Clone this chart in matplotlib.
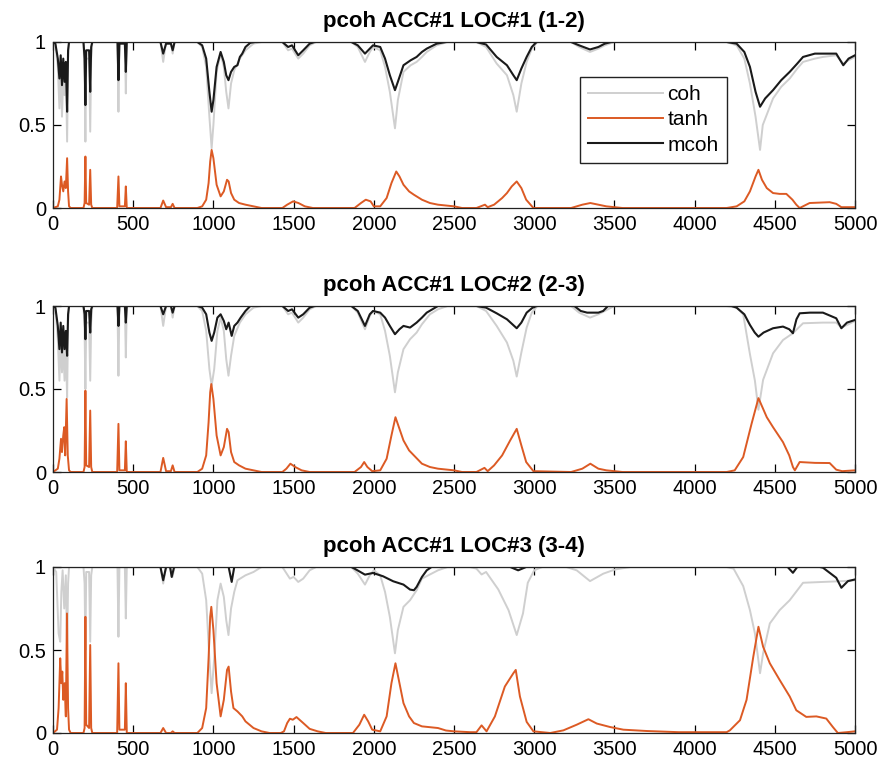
import matplotlib
matplotlib.use("Agg")
import matplotlib.pyplot as plt
import numpy as np

plt.rcParams['font.family'] = ['Liberation Sans', 'DejaVu Sans']

titles = ["pcoh ACC#1 LOC#1 (1-2)", "pcoh ACC#1 LOC#2 (2-3)", "pcoh ACC#1 LOC#3 (3-4)"]
series_names = ["coh", "tanh", "mcoh"]
x_ticks = [0, 500, 1000, 1500, 2000, 2500, 3000, 3500, 4000, 4500, 5000]
y_ticks = [0, 0.5, 1]
y_ticklabels = ["0", "0.5", "1"]

# ---------------- Panel 1 (frequency, value) ----------------
p1_coh = [(0, 1.0), (15, 0.98), (30, 0.85), (40, 0.6), (48, 0.85), (56, 0.55), (64, 0.8), (72, 0.68),
          (80, 0.85), (88, 0.4), (94, 0.9), (100, 1.0),
          (190, 1.0), (197, 0.8), (202, 0.4), (207, 0.9), (225, 0.9), (232, 0.46), (238, 0.9), (245, 1.0),
          (402, 1.0), (408, 0.58), (414, 1.0), (448, 1.0), (454, 0.69), (460, 1.0),
          (670, 1.0), (687, 0.88), (705, 1.0), (735, 1.0), (746, 0.93), (758, 1.0),
          (900, 1.0), (930, 0.97), (955, 0.85), (975, 0.55), (989, 0.36), (1000, 0.5), (1020, 0.82),
          (1045, 0.93), (1065, 0.85), (1080, 0.7), (1094, 0.6), (1110, 0.75), (1130, 0.83), (1165, 0.9),
          (1200, 0.95), (1250, 0.99), (1300, 1.0),
          (1430, 1.0), (1466, 0.95), (1490, 0.96), (1529, 0.9), (1560, 0.93), (1600, 0.98), (1640, 1.0),
          (1860, 1.0), (1900, 0.97), (1945, 0.88), (1975, 0.94), (1995, 0.97), (2040, 0.95), (2070, 0.85),
          (2100, 0.7), (2132, 0.48), (2150, 0.65), (2185, 0.82), (2230, 0.86), (2267, 0.88), (2300, 0.91),
          (2330, 0.94), (2392, 0.98), (2460, 1.0),
          (2640, 1.0), (2700, 0.97), (2766, 0.87), (2830, 0.8), (2870, 0.68), (2891, 0.58), (2920, 0.75),
          (2953, 0.88), (2985, 0.96), (3020, 1.0),
          (3230, 1.0), (3280, 0.97), (3348, 0.94), (3400, 0.96), (3440, 0.98), (3500, 1.0),
          (4200, 1.0), (4262, 0.98), (4310, 0.9), (4345, 0.75), (4380, 0.55), (4408, 0.35), (4425, 0.5),
          (4489, 0.66), (4540, 0.73), (4593, 0.78), (4640, 0.84), (4676, 0.88), (4750, 0.9), (4800, 0.91),
          (4883, 0.92), (4927, 0.87), (4960, 0.89), (5000, 0.91)]
p1_tanh = [(0, 0.0), (30, 0.01), (40, 0.05), (50, 0.19), (56, 0.14), (64, 0.1), (72, 0.16), (80, 0.12),
           (88, 0.3), (94, 0.1), (100, 0.01), (110, 0.0),
           (190, 0.0), (197, 0.03), (202, 0.31), (207, 0.03), (225, 0.02), (232, 0.23), (238, 0.02), (245, 0.0),
           (400, 0.0), (408, 0.19), (414, 0.01), (448, 0.01), (454, 0.13), (460, 0.0),
           (670, 0.0), (687, 0.045), (705, 0.005), (735, 0.005), (746, 0.025), (758, 0.0),
           (900, 0.0), (930, 0.01), (955, 0.05), (970, 0.15), (980, 0.28), (989, 0.35), (1000, 0.3),
           (1020, 0.14), (1045, 0.07), (1065, 0.1), (1085, 0.17), (1095, 0.16), (1110, 0.09), (1130, 0.05),
           (1160, 0.03), (1200, 0.02), (1250, 0.01), (1300, 0.0),
           (1430, 0.0), (1460, 0.02), (1497, 0.04), (1530, 0.03), (1570, 0.01), (1620, 0.0),
           (1880, 0.0), (1920, 0.03), (1950, 0.05), (1980, 0.04), (2000, 0.01), (2040, 0.01), (2080, 0.06),
           (2110, 0.15), (2140, 0.22), (2160, 0.19), (2185, 0.14), (2220, 0.1), (2250, 0.08), (2300, 0.05),
           (2350, 0.03), (2400, 0.02), (2500, 0.01), (2550, 0.0),
           (2640, 0.0), (2693, 0.02), (2710, 0.005), (2750, 0.02), (2800, 0.06), (2830, 0.09), (2860, 0.13),
           (2891, 0.16), (2920, 0.12), (2950, 0.05), (2995, 0.0),
           (3230, 0.0), (3300, 0.02), (3350, 0.03), (3400, 0.02), (3450, 0.01), (3550, 0.0),
           (4200, 0.0), (4262, 0.01), (4310, 0.04), (4345, 0.1), (4380, 0.19), (4398, 0.23), (4420, 0.17),
           (4450, 0.12), (4489, 0.09), (4530, 0.085), (4572, 0.085), (4610, 0.05), (4634, 0.02), (4655, 0.0),
           (4717, 0.03), (4842, 0.035), (4883, 0.025), (4915, 0.005), (5000, 0.005)]
p1_mcoh = [(0, 1.0), (15, 0.99), (30, 0.9), (40, 0.78), (48, 0.92), (56, 0.74), (64, 0.9), (72, 0.76),
           (80, 0.88), (88, 0.58), (94, 0.95), (100, 1.0),
           (190, 1.0), (197, 0.9), (202, 0.62), (207, 0.95), (225, 0.95), (232, 0.7), (238, 0.97), (245, 1.0),
           (402, 1.0), (408, 0.77), (414, 0.99), (448, 0.99), (454, 0.82), (460, 1.0),
           (670, 1.0), (687, 0.93), (705, 0.99), (735, 0.99), (746, 0.95), (758, 1.0),
           (900, 1.0), (930, 0.98), (955, 0.9), (975, 0.7), (989, 0.58), (1000, 0.65), (1020, 0.85),
           (1045, 0.94), (1065, 0.88), (1080, 0.8), (1094, 0.77), (1110, 0.82), (1130, 0.85), (1150, 0.86),
           (1165, 0.91), (1180, 0.93), (1200, 0.97), (1230, 0.995), (1260, 1.0),
           (1430, 1.0), (1466, 0.97), (1490, 0.98), (1529, 0.92), (1560, 0.95), (1600, 0.99), (1630, 1.0),
           (1860, 1.0), (1900, 0.98), (1945, 0.93), (1975, 0.96), (1995, 0.98), (2040, 0.97), (2070, 0.9),
           (2100, 0.8), (2132, 0.71), (2150, 0.76), (2185, 0.86), (2230, 0.89), (2267, 0.91), (2300, 0.94),
           (2330, 0.96), (2392, 0.99), (2450, 1.0),
           (2640, 1.0), (2700, 0.985), (2766, 0.91), (2830, 0.86), (2870, 0.8), (2891, 0.77), (2920, 0.84),
           (2953, 0.91), (2985, 0.97), (3015, 1.0),
           (3230, 1.0), (3280, 0.98), (3348, 0.955), (3400, 0.97), (3440, 0.99), (3480, 1.0),
           (4200, 1.0), (4262, 0.99), (4310, 0.94), (4345, 0.85), (4380, 0.7), (4408, 0.61), (4440, 0.66),
           (4489, 0.71), (4540, 0.77), (4593, 0.82), (4640, 0.87), (4676, 0.91), (4750, 0.93), (4800, 0.93),
           (4883, 0.93), (4927, 0.86), (4960, 0.9), (5000, 0.92)]

# ---------------- Panel 2 ----------------
p2_coh = [(0, 1.0), (15, 0.98), (30, 0.8), (40, 0.55), (48, 0.8), (56, 0.6), (64, 0.75), (72, 0.55),
          (80, 0.75), (88, 0.45), (94, 0.9), (100, 1.0),
          (190, 1.0), (197, 0.85), (202, 0.5), (207, 0.9), (225, 0.9), (232, 0.55), (238, 0.9), (245, 1.0),
          (402, 1.0), (408, 0.58), (414, 1.0), (448, 1.0), (454, 0.69), (460, 1.0),
          (670, 1.0), (687, 0.88), (705, 1.0), (735, 1.0), (746, 0.93), (758, 1.0),
          (900, 1.0), (930, 0.97), (955, 0.85), (975, 0.62), (989, 0.52), (1005, 0.62), (1025, 0.85),
          (1045, 0.93), (1065, 0.85), (1080, 0.68), (1094, 0.58), (1110, 0.7), (1130, 0.82), (1165, 0.9),
          (1200, 0.95), (1250, 0.99), (1300, 1.0),
          (1430, 1.0), (1466, 0.95), (1490, 0.96), (1529, 0.9), (1560, 0.93), (1600, 0.98), (1640, 1.0),
          (1860, 1.0), (1900, 0.96), (1945, 0.86), (1975, 0.94), (1995, 0.97), (2040, 0.95), (2070, 0.85),
          (2100, 0.7), (2132, 0.48), (2150, 0.6), (2185, 0.74), (2226, 0.8), (2267, 0.84), (2300, 0.89),
          (2350, 0.95), (2400, 0.98), (2460, 1.0),
          (2640, 1.0), (2700, 0.97), (2766, 0.88), (2830, 0.78), (2870, 0.67), (2891, 0.575), (2920, 0.72),
          (2953, 0.87), (2985, 0.96), (3020, 1.0),
          (3230, 1.0), (3280, 0.96), (3348, 0.93), (3400, 0.95), (3440, 0.97), (3500, 1.0),
          (4200, 1.0), (4262, 0.99), (4303, 0.95), (4345, 0.71), (4376, 0.55), (4398, 0.375), (4427, 0.555),
          (4489, 0.715), (4551, 0.795), (4613, 0.836), (4676, 0.896), (4800, 0.9), (4883, 0.9), (4915, 0.87),
          (4960, 0.89), (5000, 0.91)]
p2_tanh = [(0, 0.0), (30, 0.02), (40, 0.08), (50, 0.2), (56, 0.12), (64, 0.22), (70, 0.27), (76, 0.1),
           (85, 0.44), (92, 0.1), (100, 0.01), (110, 0.0),
           (190, 0.0), (197, 0.03), (202, 0.49), (207, 0.04), (225, 0.03), (232, 0.37), (238, 0.03), (245, 0.0),
           (400, 0.0), (408, 0.29), (414, 0.01), (448, 0.01), (454, 0.185), (460, 0.0),
           (670, 0.0), (687, 0.085), (705, 0.005), (735, 0.005), (746, 0.04), (758, 0.0),
           (900, 0.0), (930, 0.02), (955, 0.1), (970, 0.3), (980, 0.48), (987, 0.53), (1000, 0.44),
           (1020, 0.22), (1045, 0.1), (1065, 0.15), (1085, 0.26), (1095, 0.24), (1110, 0.12), (1130, 0.06),
           (1160, 0.04), (1200, 0.02), (1250, 0.01), (1300, 0.0),
           (1430, 0.0), (1455, 0.02), (1480, 0.05), (1510, 0.03), (1550, 0.01), (1600, 0.0),
           (1880, 0.0), (1920, 0.03), (1940, 0.06), (1960, 0.03), (1990, 0.005), (2040, 0.01), (2080, 0.08),
           (2110, 0.22), (2135, 0.33), (2160, 0.26), (2185, 0.19), (2220, 0.13), (2250, 0.1), (2300, 0.05),
           (2350, 0.03), (2400, 0.02), (2500, 0.01), (2550, 0.0),
           (2640, 0.0), (2690, 0.025), (2710, 0.005), (2750, 0.04), (2800, 0.1), (2850, 0.19), (2891, 0.26),
           (2920, 0.16), (2950, 0.06), (2995, 0.005),
           (3230, 0.0), (3300, 0.02), (3350, 0.05), (3400, 0.02), (3450, 0.01), (3550, 0.0),
           (4200, 0.0), (4250, 0.01), (4303, 0.09), (4355, 0.29), (4398, 0.445), (4450, 0.33), (4489, 0.27),
           (4551, 0.18), (4590, 0.1), (4613, 0.03), (4625, 0.01), (4655, 0.06), (4750, 0.055), (4842, 0.054),
           (4883, 0.014), (4920, 0.005), (5000, 0.01)]
p2_mcoh = [(0, 1.0), (15, 0.99), (30, 0.88), (40, 0.74), (48, 0.9), (56, 0.72), (64, 0.88), (72, 0.74),
           (80, 0.85), (88, 0.7), (94, 0.95), (100, 1.0),
           (190, 1.0), (197, 0.95), (202, 0.8), (207, 0.97), (225, 0.97), (232, 0.84), (238, 0.98), (245, 1.0),
           (402, 1.0), (408, 0.88), (414, 1.0), (448, 1.0), (454, 0.9), (460, 1.0),
           (670, 1.0), (687, 0.95), (705, 1.0), (735, 1.0), (746, 0.96), (758, 1.0),
           (900, 1.0), (930, 0.99), (955, 0.95), (975, 0.84), (989, 0.79), (1005, 0.84), (1025, 0.93),
           (1045, 0.95), (1065, 0.91), (1080, 0.86), (1095, 0.9), (1114, 0.82), (1130, 0.88), (1150, 0.9),
           (1170, 0.93), (1200, 0.97), (1230, 1.0),
           (1430, 1.0), (1466, 0.97), (1490, 0.98), (1529, 0.93), (1560, 0.95), (1600, 0.99), (1630, 1.0),
           (1860, 1.0), (1900, 0.97), (1945, 0.88), (1975, 0.95), (1995, 0.97), (2040, 0.96), (2070, 0.93),
           (2100, 0.88), (2132, 0.83), (2160, 0.86), (2185, 0.88), (2226, 0.87), (2267, 0.9), (2300, 0.93),
           (2330, 0.96), (2400, 1.0),
           (2640, 1.0), (2700, 0.99), (2766, 0.956), (2830, 0.92), (2891, 0.866), (2920, 0.9), (2953, 0.96),
           (2990, 0.99), (3015, 1.0),
           (3250, 1.0), (3290, 0.97), (3330, 0.96), (3400, 0.96), (3430, 0.97), (3460, 1.0),
           (4230, 1.0), (4262, 0.99), (4310, 0.95), (4345, 0.886), (4375, 0.84), (4398, 0.815), (4430, 0.84),
           (4489, 0.866), (4551, 0.876), (4590, 0.86), (4613, 0.836), (4635, 0.92), (4655, 0.956), (4720, 0.96),
           (4800, 0.96), (4883, 0.926), (4915, 0.866), (4950, 0.9), (5000, 0.916)]

# ---------------- Panel 3 ----------------
p3_coh = [(0, 1.0), (20, 0.97), (35, 0.6), (45, 0.55), (52, 0.85), (60, 0.98), (70, 0.75), (80, 0.95),
          (88, 0.5), (94, 0.9), (100, 1.0),
          (190, 1.0), (197, 0.9), (202, 0.5), (207, 0.97), (225, 0.97), (232, 0.55), (238, 0.95), (245, 1.0),
          (402, 1.0), (408, 0.58), (414, 1.0), (448, 1.0), (454, 0.69), (460, 1.0),
          (670, 1.0), (687, 0.9), (705, 1.0), (730, 1.0), (745, 0.94), (758, 1.0),
          (900, 1.0), (930, 0.96), (955, 0.8), (975, 0.45), (989, 0.24), (1005, 0.45), (1025, 0.8),
          (1045, 0.9), (1065, 0.82), (1080, 0.68), (1094, 0.59), (1110, 0.75), (1130, 0.85), (1150, 0.92),
          (1200, 0.95), (1250, 0.97), (1300, 1.0),
          (1430, 1.0), (1477, 0.93), (1500, 0.94), (1529, 0.91), (1560, 0.93), (1600, 0.98), (1640, 1.0),
          (1860, 1.0), (1900, 0.96), (1945, 0.894), (1975, 0.95), (2000, 0.98), (2040, 0.95), (2070, 0.85),
          (2100, 0.7), (2132, 0.48), (2150, 0.62), (2185, 0.76), (2226, 0.8), (2267, 0.86), (2300, 0.93),
          (2400, 0.98), (2460, 1.0),
          (2600, 1.0), (2640, 0.99), (2672, 0.955), (2700, 0.97), (2776, 0.865), (2840, 0.74), (2891, 0.59),
          (2930, 0.72), (2960, 0.905), (3000, 0.98), (3050, 1.0),
          (3200, 1.0), (3265, 0.98), (3348, 0.915), (3431, 0.96), (3504, 0.985), (3600, 1.0),
          (4200, 1.0), (4243, 0.99), (4303, 0.885), (4345, 0.74), (4376, 0.6), (4408, 0.36), (4427, 0.48),
          (4469, 0.66), (4530, 0.74), (4593, 0.8), (4676, 0.905), (4800, 0.91), (4925, 0.915), (5000, 0.92)]
p3_tanh = [(0, 0.0), (25, 0.02), (35, 0.15), (45, 0.45), (52, 0.3), (58, 0.37), (64, 0.2), (72, 0.3),
           (80, 0.1), (87, 0.72), (94, 0.15), (100, 0.02), (110, 0.0),
           (190, 0.0), (197, 0.03), (202, 0.7), (207, 0.05), (225, 0.03), (232, 0.53), (238, 0.03), (245, 0.0),
           (400, 0.0), (408, 0.42), (414, 0.02), (448, 0.02), (454, 0.3), (460, 0.0),
           (670, 0.0), (687, 0.03), (705, 0.0), (735, 0.0), (746, 0.01), (758, 0.0),
           (900, 0.0), (930, 0.03), (955, 0.15), (970, 0.45), (980, 0.7), (987, 0.76), (1000, 0.62),
           (1020, 0.3), (1045, 0.1), (1065, 0.2), (1085, 0.38), (1095, 0.4), (1110, 0.25), (1125, 0.15),
           (1150, 0.13), (1180, 0.1), (1200, 0.07), (1250, 0.03), (1300, 0.01), (1350, 0.0),
           (1420, 0.0), (1440, 0.01), (1460, 0.06), (1477, 0.086), (1495, 0.08), (1518, 0.096), (1560, 0.06),
           (1600, 0.025), (1650, 0.01), (1700, 0.0),
           (1870, 0.0), (1910, 0.05), (1940, 0.11), (1965, 0.07), (1990, 0.02), (2040, 0.01), (2080, 0.1),
           (2110, 0.3), (2135, 0.42), (2160, 0.3), (2185, 0.18), (2220, 0.1), (2250, 0.06), (2300, 0.04),
           (2350, 0.035), (2400, 0.03), (2450, 0.015), (2500, 0.01), (2600, 0.005),
           (2640, 0.005), (2672, 0.046), (2703, 0.01), (2755, 0.1), (2817, 0.28), (2870, 0.36), (2885, 0.38),
           (2911, 0.22), (2953, 0.067), (2995, 0.01), (3100, 0.0),
           (3182, 0.016), (3265, 0.05), (3338, 0.083), (3390, 0.057), (3473, 0.036), (3556, 0.02),
           (3702, 0.012), (3900, 0.005), (4200, 0.005),
           (4220, 0.016), (4283, 0.077), (4324, 0.2), (4366, 0.46), (4398, 0.64), (4427, 0.52), (4469, 0.42),
           (4530, 0.32), (4593, 0.22), (4634, 0.137), (4696, 0.097), (4759, 0.1), (4821, 0.087), (4862, 0.036),
           (4893, 0.0), (4950, 0.005), (5000, 0.01)]
p3_mcoh = [(0, 1.0), (670, 1.0), (687, 0.92), (705, 1.0), (730, 1.0), (740, 0.94), (755, 1.0),
           (1095, 1.0), (1114, 0.91), (1130, 1.0),
           (1860, 1.0), (1880, 0.99), (1945, 0.954), (1995, 0.964), (2058, 0.944), (2121, 0.914), (2185, 0.894),
           (2226, 0.864), (2250, 0.86), (2267, 0.88), (2300, 0.94), (2330, 0.98), (2360, 1.0),
           (2850, 1.0), (2900, 0.98), (2950, 1.0),
           (4580, 1.0), (4613, 0.965), (4640, 1.0),
           (4780, 1.0), (4800, 0.996), (4883, 0.935), (4915, 0.875), (4956, 0.915), (5000, 0.925)]

panels = [(p1_coh, p1_tanh, p1_mcoh), (p2_coh, p2_tanh, p2_mcoh), (p3_coh, p3_tanh, p3_mcoh)]
colors = ["#cfcfcf", "#dc5a24", "#1a1a1a"]
widths = [1.4, 1.4, 1.5]

fig = plt.figure(figsize=(8.81, 7.67), dpi=100)
W, H = 881, 767
boxes = [(42, 208), (306, 472), (567, 733)]
left_px, right_px = 53, 855

for i, (top, bot) in enumerate(boxes):
    ax = fig.add_axes([left_px / W, 1 - bot / H, (right_px - left_px) / W, (bot - top) / H])
    for name, data, c, lw in zip(series_names, panels[i], colors, widths):
        f = np.array([p[0] for p in data], dtype=float)
        v = np.array([p[1] for p in data], dtype=float)
        ax.plot(f, v, color=c, lw=lw, label=name)
    ax.set_xlim(0, 5000)
    ax.set_ylim(0, 1)
    ax.set_xticks(x_ticks)
    ax.set_xticklabels([str(t) for t in x_ticks])
    ax.set_yticks(y_ticks)
    ax.set_yticklabels(y_ticklabels)
    ax.tick_params(direction='in', length=5.5, width=0.9, top=True, right=True,
                   labelsize=14.5, pad=5, colors='black')
    for s in ax.spines.values():
        s.set_linewidth(0.9)
        s.set_color('#222222')
    ax.set_title(titles[i], fontsize=16, fontweight='bold', pad=11)
    if i == 0:
        leg = ax.legend(loc='upper left', bbox_to_anchor=(0.657, 0.79), borderaxespad=0,
                        fancybox=False, framealpha=1, edgecolor='#222222', fontsize=15,
                        handlelength=3.6, handletextpad=0.2, labelspacing=0.3, borderpad=0.4)
        leg.get_frame().set_linewidth(1.0)

fig.savefig("out.png", dpi=100)
